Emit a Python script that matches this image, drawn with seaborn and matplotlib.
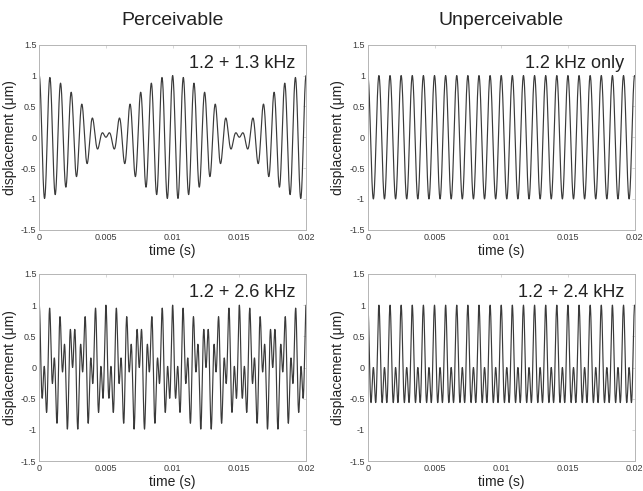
import numpy as np
import pandas as pd
import matplotlib
matplotlib.use("Agg")
import matplotlib.pyplot as plt
import seaborn as sns

sns.set_style("white")
plt.rcParams['font.family'] = ['Liberation Sans', 'DejaVu Sans']

# panel info: label, tone frequencies (Hz), tone amplitudes (um)
panel_labels = ['1.2 + 1.3 kHz', '1.2 kHz only', '1.2 + 2.6 kHz', '1.2 + 2.4 kHz']
panel_freqs = [[1200, 1300], [1200], [1200, 2600], [1200, 2400]]
panel_amps = [[0.5, 0.5], [1.0], [0.5, 0.5], [0.5, 0.5]]
col_titles = ['Perceivable', 'Unperceivable']

x_ticks = [0, 0.005, 0.01, 0.015, 0.02]
x_tick_labels = ['0', '0.005', '0.01', '0.015', '0.02']
y_ticks = [-1.5, -1, -0.5, 0, 0.5, 1, 1.5]
y_tick_labels = ['-1.5', '-1', '-0.5', '0', '0.5', '1', '1.5']

t = np.linspace(0, 0.02, 4001)

fig = plt.figure(figsize=(6.43, 4.91), dpi=100)

# axes rectangles (left, bottom, width, height) in figure fraction
rects = [
    (0.061, 0.532, 0.415, 0.377),
    (0.572, 0.532, 0.415, 0.377),
    (0.061, 0.061, 0.415, 0.381),
    (0.572, 0.061, 0.415, 0.381),
]

for i in range(4):
    ax = fig.add_axes(rects[i])
    y = np.zeros_like(t)
    for f, a in zip(panel_freqs[i], panel_amps[i]):
        y = y + a * np.cos(2 * np.pi * f * t)
    df = pd.DataFrame({'time': t, 'disp': y})
    sns.lineplot(data=df, x='time', y='disp', ax=ax, color='#3a3a3a', linewidth=0.85)

    ax.set_xlim(0, 0.02)
    ax.set_ylim(-1.5, 1.5)
    ax.set_xticks(x_ticks)
    ax.set_xticklabels(x_tick_labels)
    ax.set_yticks(y_ticks)
    ax.set_yticklabels(y_tick_labels)
    ax.tick_params(direction='in', length=2.5, width=0.5, colors='#c8c8c8',
                   labelcolor='#3a3a3a', labelsize=6.5, top=True, right=True, pad=2)
    for s in ax.spines.values():
        s.set_color('#b5b5b5')
        s.set_linewidth(0.7)
    ax.set_xlabel('time (s)', fontsize=10, labelpad=1.5, color='#222222')
    ax.set_ylabel('displacement (\u03bcm)', fontsize=10, labelpad=3, color='#222222')
    ax.text(0.96, 0.9, panel_labels[i], transform=ax.transAxes, ha='right', va='center',
            fontsize=13, color='#222222')

fig.text(0.268, 0.958, col_titles[0], ha='center', va='center', fontsize=14, color='#222222')
fig.text(0.780, 0.958, col_titles[1], ha='center', va='center', fontsize=14, color='#222222')

fig.savefig('out.png', dpi=100)
